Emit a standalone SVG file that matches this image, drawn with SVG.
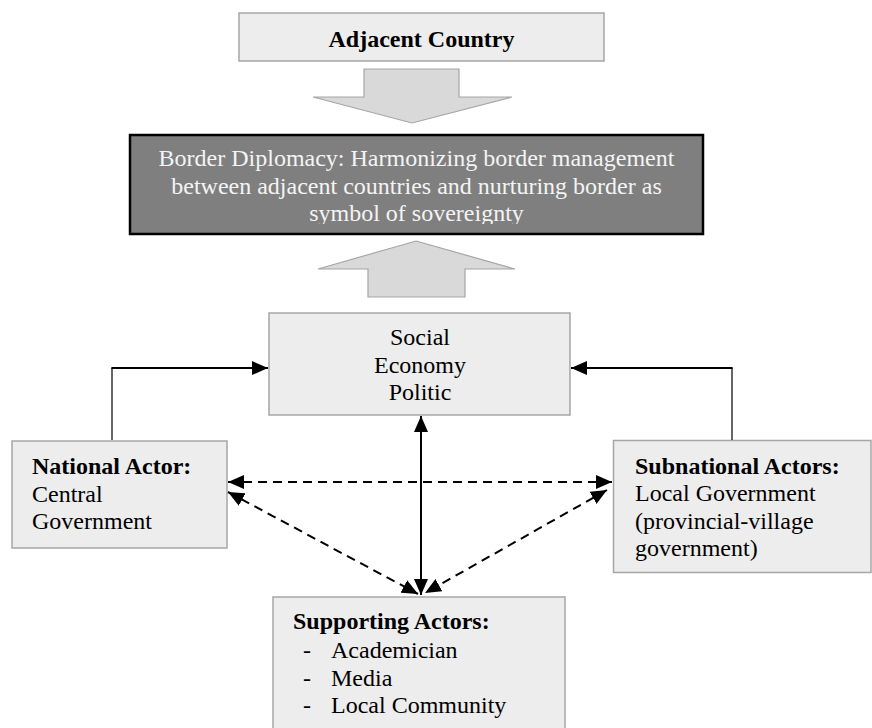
<svg xmlns="http://www.w3.org/2000/svg" width="872" height="728" viewBox="0 0 872 728">
<style>
text{font-family:"Liberation Serif","Times New Roman",serif;font-size:24px;fill:#000}
.b{font-weight:bold}
.box{fill:#ededed;stroke:#a6a6a6;stroke-width:1.5}
.blk{fill:#d9d9d9;stroke:#a6a6a6;stroke-width:1.2}
.ln{stroke:#000;fill:none}
.dash{stroke:#000;fill:none;stroke-width:2;stroke-dasharray:9 6}
.w{fill:#f4f4f4}
</style>
<defs>
<marker id="ah" markerUnits="userSpaceOnUse" markerWidth="16" markerHeight="14" refX="16" refY="7" orient="auto-start-reverse">
<path d="M0,0 L16,7 L0,14 z" fill="#000"/>
</marker>
<clipPath id="clipDark"><rect x="130" y="135" width="573" height="89"/></clipPath>
</defs>
<rect width="872" height="728" fill="#fff"/>

<g id="adjacent">
<rect class="box" x="239" y="13" width="365" height="48"/>
<text class="b" x="421.5" y="47" text-anchor="middle">Adjacent Country</text>
</g>

<g id="arrow-down">
<polygon class="blk" points="364,69 459,69 459,97 512,97 412,123 313,97 364,97"/>
</g>

<g id="border-diplomacy">
<rect x="130" y="135" width="573" height="99" fill="#7f7f7f" stroke="#000" stroke-width="2.5"/>
<g clip-path="url(#clipDark)">
<text class="w" x="416.5" y="166" text-anchor="middle">Border Diplomacy: Harmonizing border management</text>
<text class="w" x="416.5" y="193.5" text-anchor="middle">between adjacent countries and nurturing border as</text>
<text class="w" x="416.5" y="221" text-anchor="middle">symbol of sovereignty</text>
</g>
</g>

<g id="arrow-up">
<polygon class="blk" points="416,241 515,269 465,269 465,297 368,297 368,269 318,269"/>
</g>

<g id="social">
<rect class="box" x="269" y="313" width="301" height="102"/>
<text x="420" y="345" text-anchor="middle">Social</text>
<text x="420" y="373" text-anchor="middle">Economy</text>
<text x="420" y="400" text-anchor="middle">Politic</text>
</g>

<g id="national">
<rect class="box" x="12" y="441" width="215" height="107"/>
<text class="b" x="32" y="474">National Actor:</text>
<text x="32" y="502">Central</text>
<text x="32" y="529">Government</text>
</g>

<g id="subnational">
<rect class="box" x="613.5" y="440.5" width="257.5" height="132"/>
<text class="b" x="635" y="474">Subnational Actors:</text>
<text x="635" y="501">Local Government</text>
<text x="635" y="529">(provincial-village</text>
<text x="635" y="556">government)</text>
</g>

<g id="supporting">
<rect class="box" x="273" y="597" width="292" height="140"/>
<text class="b" x="293" y="629">Supporting Actors:</text>
<text x="303" y="658">-</text>
<text x="331" y="658">Academician</text>
<text x="303" y="686">-</text>
<text x="331" y="686">Media</text>
<text x="303" y="713">-</text>
<text x="331" y="713">Local Community</text>
</g>

<g id="connectors">
<line class="ln" x1="112" y1="440" x2="112" y2="368" stroke-width="1.2"/>
<path class="ln" d="M111.4,368 H268" stroke-width="2" marker-end="url(#ah)"/>
<line class="ln" x1="732" y1="440" x2="732" y2="368" stroke-width="1.2"/>
<path class="ln" d="M732.6,368 H571" stroke-width="2" marker-end="url(#ah)"/>
<line class="ln" x1="421" y1="416" x2="421" y2="595" stroke-width="2" marker-start="url(#ah)" marker-end="url(#ah)"/>
<line class="dash" x1="228" y1="482" x2="612" y2="482" marker-start="url(#ah)" marker-end="url(#ah)"/>
<line class="dash" x1="228" y1="492" x2="418" y2="594" marker-start="url(#ah)" marker-end="url(#ah)"/>
<line class="dash" x1="607" y1="490" x2="425" y2="593" marker-start="url(#ah)" marker-end="url(#ah)"/>
</g>
</svg>
